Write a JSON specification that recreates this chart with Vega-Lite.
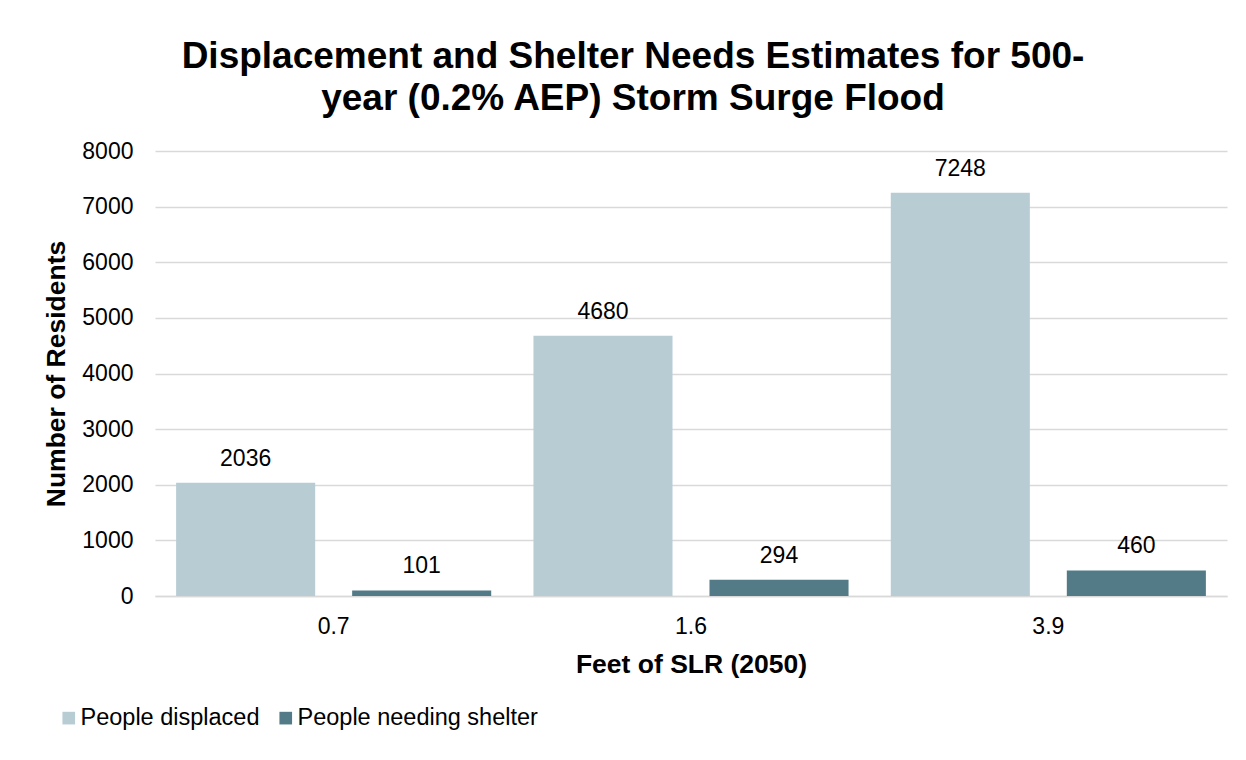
{
  "$schema": "https://vega.github.io/schema/vega-lite/v6.json",
  "autosize": {"type": "none"},
  "width": 1072,
  "height": 445,
  "padding": {"left": 155, "top": 151, "right": 19, "bottom": 164},
  "background": "white",
  "title": {
    "text": ["Displacement and Shelter Needs Estimates for 500-", "year (0.2% AEP) Storm Surge Flood"],
    "font": "Liberation Sans",
    "fontSize": 37,
    "fontWeight": "bold",
    "color": "#000000",
    "lineHeight": 42,
    "anchor": "middle",
    "frame": "group",
    "dx": -58,
    "offset": 22
  },
  "data": {
    "values": [
      {"slr": "0.7", "series": "People displaced", "residents": 2036},
      {"slr": "0.7", "series": "People needing shelter", "residents": 101},
      {"slr": "1.6", "series": "People displaced", "residents": 4680},
      {"slr": "1.6", "series": "People needing shelter", "residents": 294},
      {"slr": "3.9", "series": "People displaced", "residents": 7248},
      {"slr": "3.9", "series": "People needing shelter", "residents": 460}
    ]
  },
  "encoding": {
    "x": {
      "field": "slr",
      "type": "nominal",
      "title": "Feet of SLR (2050)",
      "scale": {"paddingInner": 0, "paddingOuter": 0},
      "axis": {
        "labelAngle": 0,
        "labelFont": "Liberation Sans",
        "labelFontSize": 23,
        "labelColor": "#000000",
        "labelPadding": 19,
        "titleFont": "Liberation Sans",
        "titleFontSize": 26.5,
        "titleFontWeight": "bold",
        "titleColor": "#000000",
        "titlePadding": 13,
        "ticks": false,
        "domainColor": "#d9d9d9",
        "domainWidth": 1.3
      }
    },
    "xOffset": {
      "field": "series",
      "scale": {"paddingInner": 0.21, "paddingOuter": 0.12}
    },
    "y": {
      "field": "residents",
      "type": "quantitative",
      "title": "Number of Residents",
      "scale": {"domain": [0, 8000]},
      "axis": {
        "values": [0, 1000, 2000, 3000, 4000, 5000, 6000, 7000, 8000],
        "format": "d",
        "labelFont": "Liberation Sans",
        "labelFontSize": 23,
        "labelColor": "#000000",
        "labelPadding": 22,
        "titleFont": "Liberation Sans",
        "titleFontSize": 26.5,
        "titleFontWeight": "bold",
        "titleColor": "#000000",
        "titlePadding": 11,
        "ticks": false,
        "domain": false,
        "gridColor": "#d9d9d9",
        "gridWidth": 1.3
      }
    }
  },
  "layer": [
    {
      "mark": {"type": "bar"},
      "encoding": {
        "color": {
          "field": "series",
          "type": "nominal",
          "title": null,
          "scale": {
            "domain": ["People displaced", "People needing shelter"],
            "range": ["#b8ccd4", "#527a87"]
          },
          "legend": {
            "orient": "none",
            "direction": "horizontal",
            "legendX": -98,
            "legendY": 555,
            "padding": 0,
            "symbolType": "square",
            "symbolSize": 160,
            "symbolStrokeWidth": 0,
            "symbolOpacity": 1,
            "labelFont": "Liberation Sans",
            "labelFontSize": 23.5,
            "labelColor": "#000000",
            "labelLimit": 400,
            "labelOffset": 0,
            "columnPadding": 14
          }
        }
      }
    },
    {
      "mark": {"type": "text", "baseline": "bottom", "dy": -12, "font": "Liberation Sans", "fontSize": 23, "color": "#000000"},
      "encoding": {
        "text": {"field": "residents", "type": "quantitative", "format": "d"}
      }
    }
  ],
  "config": {
    "view": {"stroke": null}
  }
}
